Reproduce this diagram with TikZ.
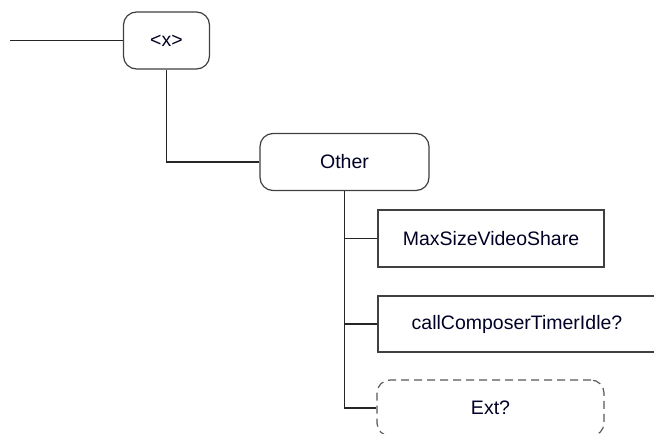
\documentclass[tikz,border=0pt]{standalone}
\usepackage{fontspec}
\setmainfont{Liberation Sans}
\begin{document}
\begin{tikzpicture}[x=1pt,y=-1pt,
  box/.style={draw=black!75, line width=1.2pt, fill=white, inner sep=0pt,
    font=\fontsize{19.5}{22}\selectfont, text=black!85!blue},
  rbox/.style={box, rounded corners=13pt},
  dbox/.style={rbox, draw=black!65, dash pattern=on 8pt off 5pt},
  conn/.style={draw=black!85, line width=1.3pt}]
\useasboundingbox (0,0) rectangle (654,434);
\clip (0,0) rectangle (654,434);
\fill[white] (0,0) rectangle (654,434);
\coordinate (start) at (10,40.5);
\node[rbox, minimum width=86pt, minimum height=57pt] (x) at (166.5,40.5) {<x>};
\node[rbox, minimum width=169pt, minimum height=57pt] (other) at (344.5,162) {Other};
\node[box, minimum width=226pt, minimum height=57pt] (max) at (491,238.5) {MaxSizeVideoShare};
\node[box, minimum width=278pt, minimum height=56pt] (call) at (517,324) {callComposerTimerIdle?};
\node[dbox, minimum width=227pt, minimum height=56pt] (ext) at (490.5,408) {Ext?};
\draw[conn] (start) -- (x.west);
\draw[conn] (x.south) |- (other.west);
\draw[conn] (other.south) |- (max.west);
\draw[conn] (other.south) |- (call.west);
\draw[conn] (other.south) |- (ext.west);
\end{tikzpicture}
\end{document}
